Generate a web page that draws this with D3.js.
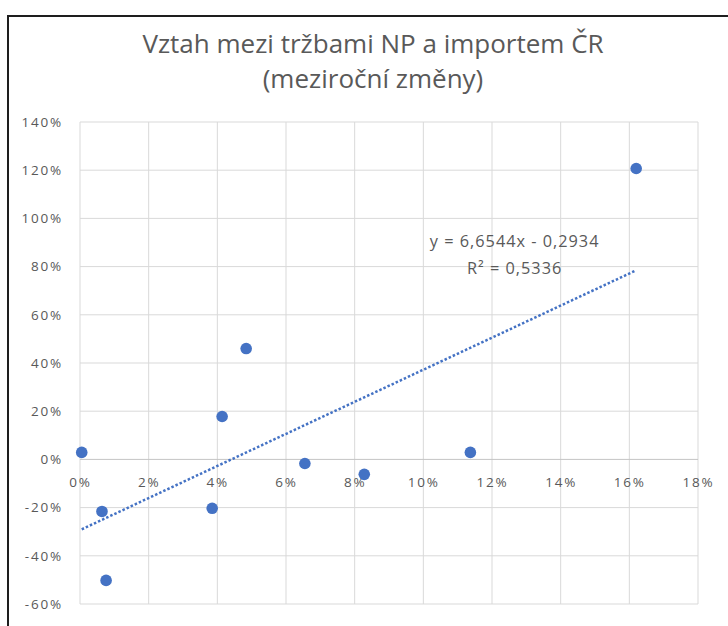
<!DOCTYPE html>
<html>
<head>
<meta charset="utf-8">
<script src="https://cdn.jsdelivr.net/npm/d3@7"></script>
<style>
  body { margin: 0; background: #fff; }
  text { font-family: "Open Sans", "Noto Sans", sans-serif; fill: #595959; }
</style>
</head>
<body>
<div id="chart"></div>
<script>
// data - x: rust importu, y: rust trzeb
var xValues = [0.0005, 0.0064, 0.0076, 0.0385, 0.0414, 0.0484, 0.0655, 0.0828, 0.1137, 0.1620];
var yValues = [0.029, -0.216, -0.502, -0.203, 0.178, 0.460, -0.017, -0.062, 0.029, 1.207];
var xTicks = [0, 0.02, 0.04, 0.06, 0.08, 0.10, 0.12, 0.14, 0.16, 0.18];
var yTicks = [-0.6, -0.4, -0.2, 0, 0.2, 0.4, 0.6, 0.8, 1.0, 1.2, 1.4];
var trendSlope = 6.6544, trendIntercept = -0.2934;
var titleLines = ["Vztah mezi tržbami NP a importem ČR", "(meziroční změny)"];
var eqLines = ["y = 6,6544x - 0,2934", "R² = 0,5336"];

var W = 728, H = 626;
var svg = d3.select('#chart').append('svg')
	.attr('width', W)
	.attr('height', H);

// chart frame
svg.append('rect')
	.attr('x', 8).attr('y', 16)
	.attr('width', W + 10).attr('height', H + 10)
	.attr('fill', 'white')
	.attr('stroke', '#1e1e1e')
	.attr('stroke-width', 2);

var x = d3.scaleLinear().domain([0, 0.18]).range([80, 698]);
var y = d3.scaleLinear().domain([-0.6, 1.4]).range([604, 122]);

var pct = function(d) { return Math.round(d * 100) + '%'; };

// gridlines
var grid = svg.append('g');
grid.selectAll('line.v').data(xTicks).enter().append('line')
	.attr('class', 'v')
	.attr('x1', d => x(d)).attr('x2', d => x(d))
	.attr('y1', y(1.4)).attr('y2', y(-0.6))
	.attr('stroke', '#d9d9d9').attr('stroke-width', 1);
grid.selectAll('line.h').data(yTicks).enter().append('line')
	.attr('class', 'h')
	.attr('x1', x(0)).attr('x2', x(0.18))
	.attr('y1', d => y(d)).attr('y2', d => y(d))
	.attr('stroke', d => d === 0 ? '#c4c4c4' : '#d9d9d9')
	.attr('stroke-width', 1);

// y axis labels
var yAxis = svg.append('g')
	.attr('transform', 'translate(' + (x(0) - 17) + ',0)')
	.call(d3.axisLeft(y).tickValues(yTicks).tickFormat(pct).tickSize(0).tickPadding(0));
yAxis.select('.domain').remove();
yAxis.selectAll('text')
	.style('font-size', '13.5px')
	.style('letter-spacing', '1.8px')
	.attr('fill', '#555');

// x axis labels (under the zero line)
var xAxis = svg.append('g')
	.attr('transform', 'translate(0,' + (y(0) + 18) + ')')
	.call(d3.axisBottom(x).tickValues(xTicks).tickFormat(pct).tickSize(0).tickPadding(0));
xAxis.select('.domain').remove();
xAxis.selectAll('text')
	.style('font-size', '13.5px')
	.style('letter-spacing', '1.8px')
	.attr('fill', '#555');

// trendline
var xExt = d3.extent(xValues);
svg.append('line')
	.attr('x1', x(xExt[0])).attr('y1', y(trendSlope * xExt[0] + trendIntercept))
	.attr('x2', x(xExt[1])).attr('y2', y(trendSlope * xExt[1] + trendIntercept))
	.attr('stroke', '#4472c4')
	.attr('stroke-width', 2.5)
	.attr('stroke-dasharray', '2.5 2');

// points
svg.append('g').selectAll('circle').data(xValues).enter().append('circle')
	.attr('cx', d => x(d))
	.attr('cy', (d, i) => y(yValues[i]))
	.attr('r', 5.8)
	.attr('fill', '#4472c4');

// equation label
svg.append('g').selectAll('text').data(eqLines).enter().append('text')
	.attr('x', x(0.1266))
	.attr('y', (d, i) => y(0.905) + i * 27)
	.attr('dy', '0.35em')
	.attr('text-anchor', 'middle')
	.style('font-size', '16.3px')
	.style('letter-spacing', '1px')
	.text(d => d);

// title
svg.append('g').selectAll('text').data(titleLines).enter().append('text')
	.attr('x', 373)
	.attr('y', (d, i) => 44 + i * 35)
	.attr('dy', '0.35em')
	.attr('text-anchor', 'middle')
	.style('font-size', '26px')
	.text(d => d);
</script>
</body>
</html>
